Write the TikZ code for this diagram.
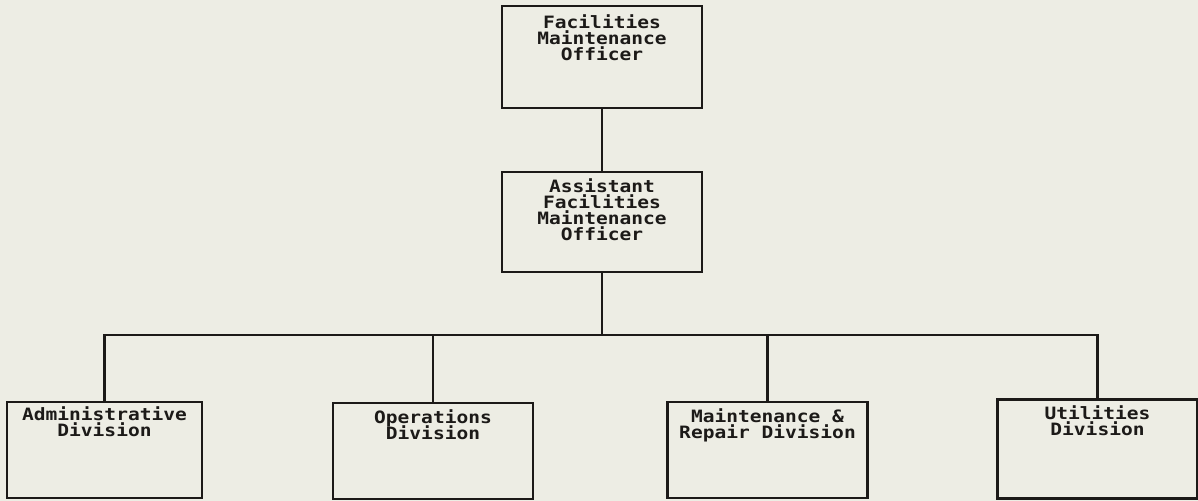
\documentclass[tikz,border=0pt]{standalone}
\usepackage{fontspec}
\setmonofont[FakeStretch=1.15]{DejaVu Sans Mono}
\usepackage{tikz}
\usetikzlibrary{positioning}
\usepackage{xcolor}
\definecolor{paperbg}{HTML}{EDEDE4}
\definecolor{inkline}{HTML}{1C1A18}
\newcommand\orgfont{\ttfamily\bfseries\fontsize{8.5}{8.1}\selectfont\lineskiplimit=-10pt\relax}

\begin{document}
\begin{tikzpicture}[
  x=0.5pt, y=-0.5pt,
  orgbox/.style={
    draw=inkline,
    line width=1.2pt,
    minimum width=100pt,
    inner sep=0pt
  },
  orgtext/.style={
    anchor=north,
    align=center,
    inner sep=0pt,
    text=inkline,
    font=\orgfont
  },
  orgline/.style={
    line width=1.2pt,
    draw=inkline
  }
]

  % paper
  \fill[paperbg] (0,0) rectangle (1198,501);
  \useasboundingbox (0,0) rectangle (1198,501);

  % --- top: officer and assistant ---
  \node[orgbox, minimum height=51pt,
    label={[orgtext, yshift=-4.5pt]north:Facilities\\Maintenance\\Officer}] (fmo) at (602,57) {};

  \node[orgbox, minimum height=50pt,
    label={[orgtext, yshift=-3.5pt]north:Assistant\\Facilities\\Maintenance\\Officer}] (afmo) at (602,222) {};

  % --- bottom row: divisions ---
  \node[orgbox, minimum width=97.5pt, minimum height=48pt,
    label={[orgtext, yshift=-2.5pt]north:Administrative\\Division}] (admin) at (104.5,450) {};

  \node[orgbox, minimum height=48pt,
    label={[orgtext, yshift=-3.5pt]north:Operations\\Division}] (ops) at (433,451) {};

  \node[orgbox, minimum height=48pt,
    label={[orgtext, yshift=-3.5pt]north:Maintenance \&\\Repair Division}] (mrd) at (767.5,450) {};

  \node[orgbox, minimum height=49.5pt,
    label={[orgtext, yshift=-3.5pt]north:Utilities\\Division}] (util) at (1097.5,449) {};

  \coordinate (bus) at (602,335);

  % Connecting lines
  \draw[orgline] (fmo.south) -- (afmo.north);
  \draw[orgline] (afmo.south) -- (bus);
  \draw[orgline] (admin.north) |- (bus) -| (util.north);
  \draw[orgline] (ops.north) -- (ops.north |- bus);
  \draw[orgline] (mrd.north) -- (mrd.north |- bus);

\end{tikzpicture}
\end{document}
